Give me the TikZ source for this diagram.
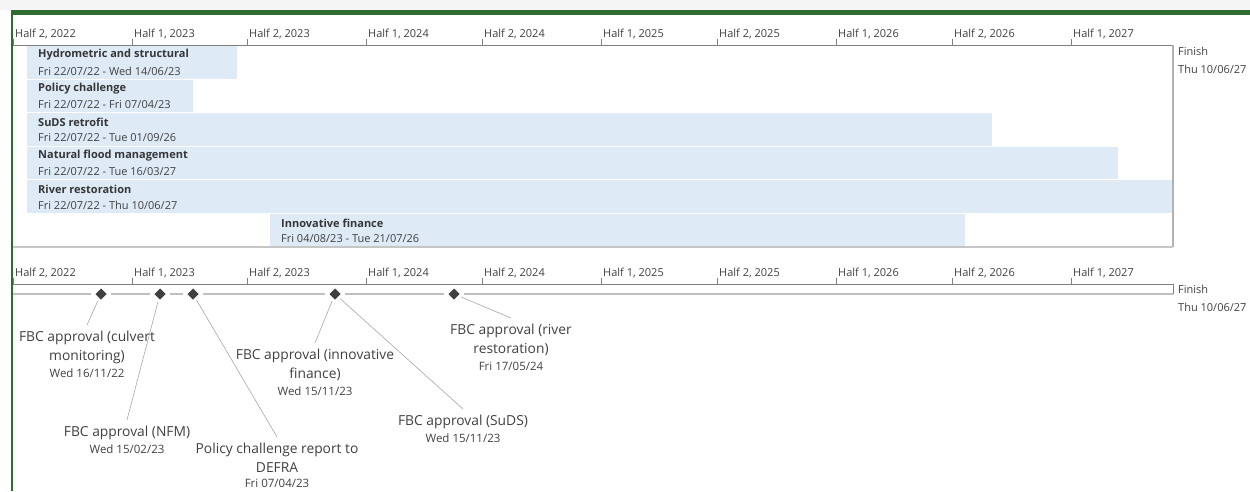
\documentclass[tikz,border=0pt]{standalone}
\usepackage{fontspec}
\setmainfont{Open Sans}
\usepackage{tikz}
\usetikzlibrary{positioning}
\usetikzlibrary{shapes.geometric}
\definecolor{txtcol}{HTML}{404040}
\definecolor{barcol}{HTML}{DEEAF6}
\definecolor{greencol}{HTML}{2E6B30}
\definecolor{axiscol}{HTML}{7F7F7F}
\definecolor{linecol}{HTML}{BFBFBF}
\tikzset{
  ticklab/.style={anchor=west, inner sep=1pt, font=\fontsize{11}{12}\selectfont, text=txtcol},
  bartitle/.style={anchor=west, inner sep=0pt, font=\fontsize{11}{12}\selectfont\bfseries, text=txtcol!85!black},
  bardate/.style={anchor=west, inner sep=0pt, font=\fontsize{11}{12}\selectfont, text=txtcol},
  mslab/.style={anchor=north, align=center, inner sep=1pt, outer sep=5pt, font=\fontsize{13.8}{19.5}\selectfont, text=txtcol},
  msdate/.style={inner sep=1pt, font=\fontsize{11.5}{12}\selectfont, text=txtcol},
  msdia/.style={diamond, fill=txtcol, inner sep=0pt, minimum size=13.5pt, outer sep=3pt},
  leader/.style={draw=gray!70, line width=0.6pt},
}

\begin{document}
\begin{tikzpicture}[x=1pt, y=-1pt]
\useasboundingbox (0,0) rectangle (1250,491);

% Frame
\fill[gray!8] (0,0) rectangle (1250,10);
\fill[greencol] (11,10) rectangle (1250,15);
\fill[greencol] (11,10) rectangle (12.5,491);

% Time scales (top and bottom)
\foreach \ya in {45,284} {
  \draw[axiscol, line width=0.8pt] (13,\ya) -- (1173,\ya);
  \foreach \x/\lab [count=\i] in {13/{Half 2, 2022}, 132/{Half 1, 2023}, 247/{Half 2, 2023},
      366/{Half 1, 2024}, 482/{Half 2, 2024}, 601/{Half 1, 2025}, 717/{Half 2, 2025},
      836/{Half 1, 2026}, 952/{Half 2, 2026}, 1071/{Half 1, 2027}} {
    \draw[axiscol, line width=0.8pt] (\x,\ya-6) -- (\x,\ya);
    \node[ticklab] (tick\ya-\i) at (\x+1,\ya-11) {\lab};
  }
}

% Bars
\fill[barcol] (27,46) rectangle (237,79);
\node[bartitle] (b1t) at (38,55) {Hydrometric and structural};
\node[bardate] (b1d) at (38,71) {Fri 22/07/22 - Wed 14/06/23};
\fill[barcol] (27,80) rectangle (193,112);
\node[bartitle] (b2t) at (38,89) {Policy challenge};
\node[bardate] (b2d) at (38,105) {Fri 22/07/22 - Fri 07/04/23};
\fill[barcol] (27,113) rectangle (992,146);
\node[bartitle] (b3t) at (38,122) {SuDS retrofit};
\node[bardate] (b3d) at (38,138) {Fri 22/07/22 - Tue 01/09/26};
\fill[barcol] (27,147) rectangle (1118,179);
\node[bartitle] (b4t) at (38,156) {Natural flood management};
\node[bardate] (b4d) at (38,172) {Fri 22/07/22 - Tue 16/03/27};
\fill[barcol] (27,180) rectangle (1173,213);
\node[bartitle] (b5t) at (38,189) {River restoration};
\node[bardate] (b5d) at (38,205) {Fri 22/07/22 - Thu 10/06/27};
\fill[barcol] (270,214) rectangle (965,246);
\node[bartitle] (b6t) at (281,223) {Innovative finance};
\node[bardate] (b6d) at (281,239) {Fri 04/08/23 - Tue 21/07/26};

% Box
\draw[gray!60, line width=1.2pt] (1173,45) -- (1173,247);
\draw[gray!45, line width=1.6pt] (13,247) -- (1173,247);
\node[ticklab] (fin1) at (1177,51) {Finish};
\node[ticklab] (fin1d) at (1177,69) {Thu 10/06/27};

% Milestones
\draw[axiscol, line width=0.8pt] (1173,284) -- (1173,294);
\coordinate (msstart) at (13,294);
\coordinate (msend) at (1173,294);
\node[msdia] (m1) at (101,294) {};
\node[msdia] (m2) at (160,294) {};
\node[msdia] (m3) at (193,294) {};
\node[msdia] (m4) at (335,294) {};
\node[msdia] (m5) at (454,294) {};
\draw[linecol, line width=2pt] (msstart) -- (m1) -- (m2) -- (m3) -- (m4) -- (m5) -- (msend);
\node[ticklab] (fin2) at (1177,289) {Finish};
\node[ticklab] (fin2d) at (1177,307) {Thu 10/06/27};

% Milestone labels
\node[mslab] (l1) at (87,325) {FBC approval (culvert\\monitoring)};
\node[msdate, below=-2.5pt of l1] (d1) {Wed 16/11/22};
\node[mslab] (l2) at (127,420) {FBC approval (NFM)};
\node[msdate, below=-2.5pt of l2] (d2) {Wed 15/02/23};
\node[mslab] (l3) at (277,437) {Policy challenge report to\\DEFRA};
\node[msdate, below=-1.5pt of l3] (d3) {Fri 07/04/23};
\node[mslab] (l4) at (315,343) {FBC approval (innovative\\finance)};
\node[msdate, below=-1.5pt of l4] (d4) {Wed 15/11/23};
\node[mslab] (l5) at (463,409) {FBC approval (SuDS)};
\node[msdate, below=-2.5pt of l5] (d5) {Wed 15/11/23};
\node[mslab] (l6) at (511,318) {FBC approval (river\\restoration)};
\node[msdate, below=-1.5pt of l6] (d6) {Fri 17/05/24};

% Leaders
\draw[leader] (m1) -- (l1.north);
\draw[leader] (m2) -- (l2.north);
\draw[leader] (m3) -- (l3.north);
\draw[leader] (m4) -- (l4.north);
\draw[leader] (m4) -- (l5.north);
\draw[leader] (m5) -- (l6.north);
\end{tikzpicture}
\end{document}
